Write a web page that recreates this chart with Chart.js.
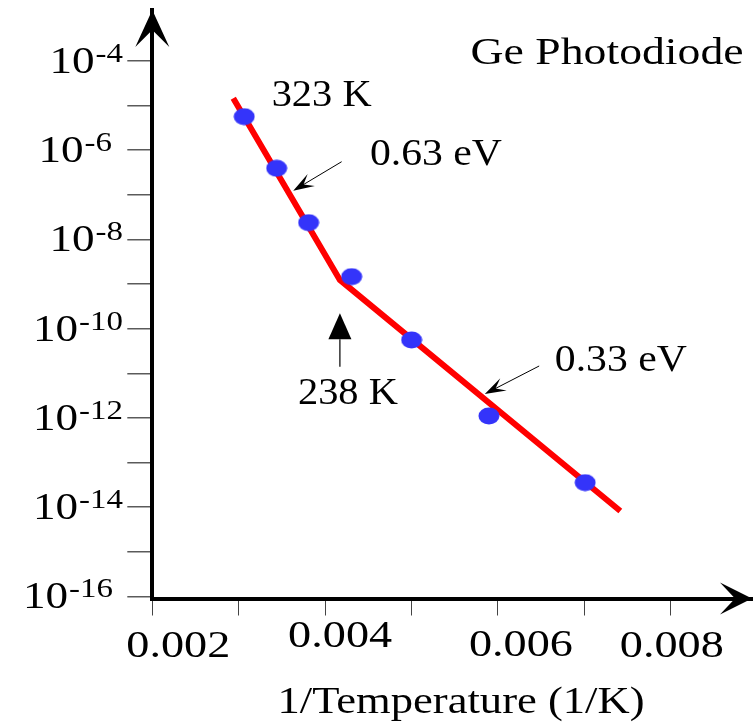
<!DOCTYPE html>
<html lang="en">
<head>
  <meta charset="UTF-8">
  <title>Ge Photodiode</title>
  <script src="https://cdn.jsdelivr.net/npm/chart.js"></script>
  <style>
    html, body { margin: 0; padding: 0; background: #ffffff; }
    #chart { display: block; }
  </style>
</head>
<body>
  <canvas id="chart" width="753" height="722"></canvas>

  <script>
    // measured points: 1/T (1/K) and dark current
    const invTemp = [0.003064, 0.003439, 0.003809, 0.004307, 0.005001, 0.005895, 0.007009];
    const current = [5.65e-6, 3.94e-7, 2.38e-8, 1.47e-9, 5.6e-11, 1.11e-12, 3.55e-14];

    // two-slope fit: start, knee (238 K), end
    const fitX = [0.002937, 0.004171, 0.007416];
    const fitY = [1.46e-5, 1.24e-9, 8.24e-15];

    const xTicks = [0.002, 0.003, 0.004, 0.005, 0.006, 0.007, 0.008];
    const xTickLabels = ['0.002', '', '0.004', '', '0.006', '', '0.008'];
    const yTickExps = [-16, -15, -14, -13, -12, -11, -10, -9, -8, -7, -6, -5, -4];
    const yLabelExps = [-16, -14, -12, -10, -8, -6, -4];

    const SX = 1.22; // the original lettering is stretched sideways
    const FONT = '"Liberation Serif", "Times New Roman", serif';

    // draws text stretched sideways; if width is given the text is fitted to it
    function stretchText(ctx, str, x, y, size, align, width) {
      ctx.save();
      ctx.font = size + 'px ' + FONT;
      const raw = ctx.measureText(str).width;
      const sx = width ? width / raw : SX;
      const w = raw * sx;
      let left = x;
      if (align === 'center') left = x - w / 2;
      else if (align === 'right') left = x - w;
      ctx.translate(left, y);
      ctx.scale(sx, 1);
      ctx.textAlign = 'left';
      ctx.textBaseline = 'alphabetic';
      ctx.fillStyle = '#000';
      ctx.fillText(str, 0, 0);
      ctx.restore();
      return w;
    }

    // thin line with a barbed head at (x2, y2)
    function barbArrow(ctx, x1, y1, x2, y2) {
      const dx = x2 - x1, dy = y2 - y1;
      const len = Math.hypot(dx, dy);
      const ux = dx / len, uy = dy / len;
      const px = -uy, py = ux;
      ctx.save();
      ctx.strokeStyle = '#000';
      ctx.fillStyle = '#000';
      ctx.lineWidth = 1;
      ctx.beginPath();
      ctx.moveTo(x1, y1);
      ctx.lineTo(x2 - ux * 8, y2 - uy * 8);
      ctx.stroke();
      ctx.beginPath();
      ctx.moveTo(x2, y2);
      ctx.lineTo(x2 - ux * 21 + px * 7, y2 - uy * 21 + py * 7);
      ctx.lineTo(x2 - ux * 12, y2 - uy * 12);
      ctx.lineTo(x2 - ux * 21 - px * 7, y2 - uy * 21 - py * 7);
      ctx.closePath();
      ctx.fill();
      ctx.restore();
    }

    // blue dots are slightly wider than tall
    const dot = document.createElement('canvas');
    dot.width = 22;
    dot.height = 18;
    (function () {
      const c = dot.getContext('2d');
      c.fillStyle = '#3434fa';
      c.beginPath();
      c.ellipse(11, 9, 10.5, 8.5, 0, 0, Math.PI * 2);
      c.fill();
    })();

    const xLabelNudge = [[26, 0], null, [15, -10], null, [23, -1], null, [1, 0]];

    const decorPlugin = {
      id: 'decor',
      afterDraw(chart) {
        const ctx = chart.ctx;
        const xs = chart.scales.x, ys = chart.scales.y;
        const X = v => xs.getPixelForValue(v);
        const Y = e => ys.getPixelForValue(Math.pow(10, e));
        const area = chart.chartArea;

        // axis arrow heads
        ctx.save();
        ctx.fillStyle = '#000';
        const ax = area.left, ay = area.top;
        ctx.beginPath();
        ctx.moveTo(ax, ay);
        ctx.lineTo(ax + 17, ay + 37);
        ctx.lineTo(ax, ay + 20);
        ctx.lineTo(ax - 17, ay + 37);
        ctx.closePath();
        ctx.fill();
        const bx = area.right, by = area.bottom;
        ctx.beginPath();
        ctx.moveTo(bx, by);
        ctx.lineTo(bx - 32, by - 16);
        ctx.lineTo(bx - 17, by);
        ctx.lineTo(bx - 32, by + 16);
        ctx.closePath();
        ctx.fill();
        ctx.restore();

        // y tick labels, 10 with a raised exponent
        yLabelExps.forEach(e => {
          const py = Y(e);
          let right = 123;
          if (e === -6) right = 112;
          if (e === -16) right = 113;
          const sup = String(e);
          ctx.save();
          ctx.font = '27px ' + FONT;
          const sw = ctx.measureText(sup).width * SX;
          ctx.restore();
          stretchText(ctx, sup, right - sw, py + 1, 27, 'left');
          stretchText(ctx, '10', right - sw - 1, py + 12, 37, 'right');
        });

        // x tick labels
        xTicks.forEach((v, i) => {
          if (!xTickLabels[i]) return;
          const n = xLabelNudge[i] || [0, 0];
          stretchText(ctx, xTickLabels[i], X(v) + n[0], 657 + n[1], 37, 'center', 104);
        });

        // axis title
        stretchText(ctx, '1/Temperature (1/K)', 461, 713, 37, 'center', 367);

        // annotations
        stretchText(ctx, 'Ge Photodiode', X(0.005683), Y(-4.067), 37, 'left', 273);
        stretchText(ctx, '323 K', X(0.003381), Y(-5.008), 37, 'left', 100);
        stretchText(ctx, '0.63 eV', X(0.004518), Y(-6.331), 37, 'left', 132);
        stretchText(ctx, '0.33 eV', X(0.006658), Y(-10.947), 37, 'left', 132);
        stretchText(ctx, '238 K', X(0.003685), Y(-11.686), 37, 'left', 100);

        barbArrow(ctx, X(0.004191), Y(-6.257), X(0.003631), Y(-6.906));
        barbArrow(ctx, X(0.006477), Y(-10.835), X(0.005848), Y(-11.462));

        // knee marker: filled arrow pointing up
        const kx = X(0.004171), tipY = Y(-9.654), baseY = tipY + 26, tailY = Y(-10.851);
        ctx.save();
        ctx.fillStyle = '#000';
        ctx.strokeStyle = '#000';
        ctx.lineWidth = 1.2;
        ctx.beginPath();
        ctx.moveTo(kx, baseY);
        ctx.lineTo(kx, tailY);
        ctx.stroke();
        ctx.beginPath();
        ctx.moveTo(kx, tipY);
        ctx.lineTo(kx + 11.5, baseY);
        ctx.lineTo(kx - 11.5, baseY);
        ctx.closePath();
        ctx.fill();
        ctx.restore();
      }
    };

    new Chart(document.getElementById('chart').getContext('2d'), {
      type: 'scatter',
      data: {
        datasets: [
          {
            label: 'Measured',
            data: invTemp.map((x, i) => ({ x: x, y: current[i] })),
            pointStyle: dot,
            pointRadius: 10,
            order: 0
          },
          {
            label: 'Fit',
            data: fitX.map((x, i) => ({ x: x, y: fitY[i] })),
            showLine: true,
            borderColor: '#ff0000',
            borderWidth: 6,
            borderCapStyle: 'butt',
            borderJoinStyle: 'miter',
            pointRadius: 0,
            tension: 0,
            order: 1
          }
        ]
      },
      options: {
        responsive: false,
        animation: false,
        layout: {
          autoPadding: false,
          padding: { left: 127.3, right: 1, top: 10, bottom: 106.5 }
        },
        scales: {
          x: {
            type: 'linear',
            min: 0.002,
            max: 0.00894,
            afterBuildTicks: s => { s.ticks = xTicks.map(v => ({ value: v })); },
            ticks: { display: false },
            grid: { drawOnChartArea: false, tickLength: 17, color: '#444', lineWidth: 1 },
            border: { color: '#000', width: 4 }
          },
          y: {
            type: 'logarithmic',
            min: Math.pow(10, -16.045),
            max: Math.pow(10, -2.857),
            afterBuildTicks: s => { s.ticks = yTickExps.map(e => ({ value: Math.pow(10, e) })); },
            ticks: { display: false },
            grid: { drawOnChartArea: false, tickLength: 25, color: '#5a5a5a', lineWidth: 1.5 },
            border: { color: '#000', width: 4 }
          }
        },
        plugins: {
          legend: { display: false },
          tooltip: { enabled: false }
        }
      },
      plugins: [decorPlugin]
    });
  </script>
</body>
</html>
